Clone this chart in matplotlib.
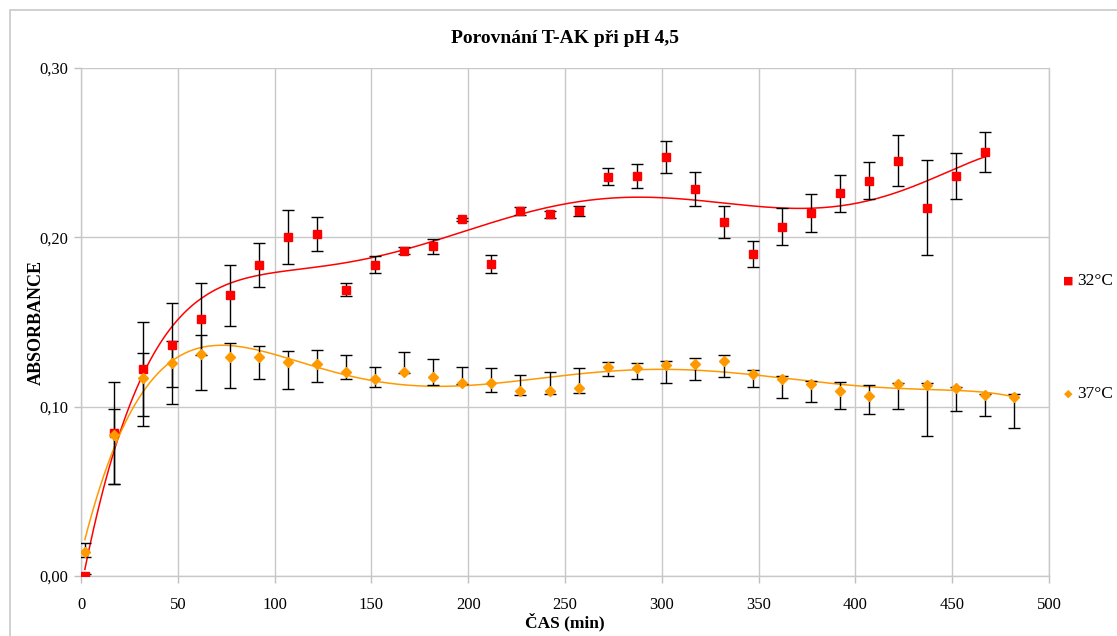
import numpy as np
import matplotlib.pyplot as plt
from matplotlib.patches import Rectangle

# ── data ─────────────────────────────────────────────
time_32 = [2, 17, 32, 47, 62, 77, 92, 107, 122, 137, 152, 167, 182, 197, 212, 227,
           242, 257, 272, 287, 302, 317, 332, 347, 362, 377, 392, 407, 422, 437, 452, 467]
abs_32 = [0.000, 0.0846, 0.1222, 0.1364, 0.1518, 0.1658, 0.1838, 0.2004, 0.2021, 0.1691,
          0.1838, 0.1921, 0.1947, 0.2107, 0.1843, 0.2157, 0.2136, 0.2157, 0.2358, 0.2364,
          0.2473, 0.2285, 0.2089, 0.1902, 0.2063, 0.2144, 0.2260, 0.2334, 0.2453, 0.2175,
          0.2362, 0.2504]
err_32 = [0.001, 0.030, 0.028, 0.025, 0.021, 0.018, 0.013, 0.016, 0.010, 0.004,
          0.005, 0.002, 0.0045, 0.001, 0.0055, 0.0025, 0.002, 0.003, 0.005, 0.007,
          0.0095, 0.010, 0.0095, 0.0077, 0.011, 0.011, 0.011, 0.011, 0.015, 0.028,
          0.0135, 0.012]

time_37 = time_32 + [482]
abs_37 = [0.0144, 0.0833, 0.1167, 0.1260, 0.1309, 0.1295, 0.1295, 0.1264, 0.1250, 0.1207,
          0.1162, 0.1207, 0.1174, 0.1142, 0.1138, 0.1093, 0.1093, 0.1112, 0.1232, 0.1226,
          0.1246, 0.1252, 0.1272, 0.1195, 0.1163, 0.1136, 0.1093, 0.1065, 0.1136, 0.1128,
          0.1112, 0.1067, 0.1059]
err_37_lo = [0.003, 0.0291, 0.0282, 0.0246, 0.0211, 0.0187, 0.013, 0.0161, 0.0103, 0.0045,
             0.0047, 0.001, 0.0045, 0.001, 0.005, 0.0022, 0.002, 0.0033, 0.0051, 0.0065,
             0.0104, 0.0096, 0.0098, 0.008, 0.0112, 0.0108, 0.0108, 0.0108, 0.0148, 0.030,
             0.0136, 0.0124, 0.0187]
err_37_hi = [0.005, 0.0152, 0.0148, 0.013, 0.0116, 0.0083, 0.0065, 0.0063, 0.0085, 0.0097,
             0.0075, 0.0114, 0.011, 0.0094, 0.0092, 0.0094, 0.011, 0.0118, 0.003, 0.003,
             0.0024, 0.0037, 0.0032, 0.0024, 0.0018, 0.0018, 0.0055, 0.0063, 0.0005, 0.001,
             0.0006, 0.001, 0.0018]

labels = ["32°C", "37°C"]
y_ticks = [0.0, 0.1, 0.2, 0.3]
x_ticks = list(range(0, 501, 50))

RED = "#ff0000"
ORANGE = "#ff9900"

plt.rcParams["font.family"] = ["Liberation Serif", "DejaVu Serif"]

fig = plt.figure(figsize=(11.17, 6.36), dpi=100)
ax = fig.add_axes([81 / 1117, 60 / 636, 968 / 1117, 508 / 636])

# chart frame (Excel chart area)
fig.patches.append(Rectangle((10 / 1117, -0.1), 2.0, (626 + 64) / 636,
                             transform=fig.transFigure, fill=False,
                             edgecolor="#c8c8c8", linewidth=1.2))

# error bars
ax.errorbar(time_32, abs_32, yerr=err_32, fmt="none", ecolor="black",
            elinewidth=1, capsize=4, capthick=1, zorder=3)
ax.errorbar(time_37, abs_37, yerr=[err_37_lo, err_37_hi], fmt="none", ecolor="black",
            elinewidth=1, capsize=4, capthick=1, zorder=3)

# polynomial trend lines (order 6, like Excel)
p32 = np.polynomial.Polynomial.fit(time_32, abs_32, 6)
xx32 = np.linspace(min(time_32), max(time_32), 300)
ax.plot(xx32, p32(xx32), color=RED, linewidth=1.1, zorder=2)

p37 = np.polynomial.Polynomial.fit(time_37, abs_37, 6)
xx37 = np.linspace(min(time_37), max(time_37), 300)
ax.plot(xx37, p37(xx37), color=ORANGE, linewidth=1.1, zorder=2)

# markers
ax.plot(time_32, abs_32, linestyle="none", marker="s", markersize=6,
        color=RED, label=labels[0], zorder=4)
ax.plot(time_37, abs_37, linestyle="none", marker="D", markersize=5,
        color=ORANGE, label=labels[1], zorder=4)

ax.set_xlim(0, 500)
ax.set_ylim(0, 0.30)
ax.set_xticks(x_ticks)
ax.set_yticks(y_ticks)
ax.set_yticklabels([f"{v:.2f}".replace(".", ",") for v in y_ticks])
ax.tick_params(axis="both", labelsize=12, color="#bfbfbf", length=5, width=1)
ax.tick_params(axis="x", pad=10)
ax.tick_params(axis="y", pad=4)

ax.grid(True, color="#c8c8c8", linewidth=1)
ax.set_axisbelow(True)
for s in ax.spines.values():
    s.set_color("#c8c8c8")
    s.set_linewidth(1)
ax.spines["top"].set_visible(False)

ax.set_title("Porovnání T-AK při pH 4,5", fontsize=14, fontweight="bold", pad=18)
ax.set_xlabel("ČAS (min)", fontsize=12.5, fontweight="bold", labelpad=0)
ax.set_ylabel("ABSORBANCE", fontsize=13, fontweight="bold", labelpad=-4)

# legend entries to the right of the plot
fig.text(1068 / 1117, 1 - 281 / 636, "\u25A0", color=RED, fontsize=8,
         ha="center", va="center", family="DejaVu Sans")
fig.text(1077 / 1117, 1 - 281 / 636, labels[0], fontsize=12.5, va="center")
fig.text(1068 / 1117, 1 - 394 / 636, "\u25C6", color=ORANGE, fontsize=8,
         ha="center", va="center", family="DejaVu Sans")
fig.text(1077 / 1117, 1 - 394 / 636, labels[1], fontsize=12.5, va="center")

fig.savefig("out.png", dpi=100)
